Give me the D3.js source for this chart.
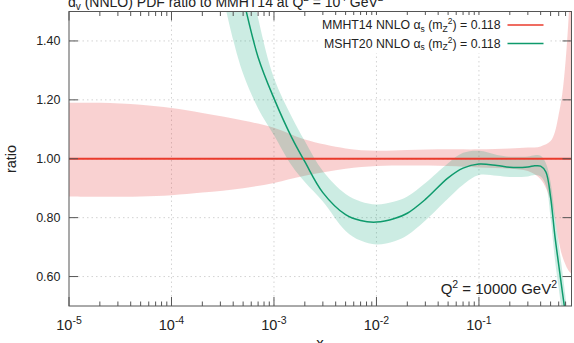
<!DOCTYPE html>
<html><head><meta charset="utf-8">
<script src="https://cdn.jsdelivr.net/npm/d3@7"></script>
<style>
body{margin:0;background:#fff;}
svg{display:block;font-family:"Liberation Sans",Arial,Helvetica,sans-serif;}
</style></head>
<body><svg id="c" width="574" height="343"></svg>
<script>
// ---- data ----
const redX      = [1e-5,2e-5,5e-5,1e-4,2e-4,5e-4,1e-3,2e-3,5e-3,1e-2,2e-2,5e-2,0.1,0.2,0.3,0.4,0.5,0.55,0.6,0.65,0.7,0.75,0.8];
const redUpper  = [1.19,1.19,1.183,1.172,1.155,1.13,1.105,1.065,1.035,1.027,1.03,1.032,1.032,1.035,1.038,1.042,1.06,1.09,1.15,1.22,1.33,1.48,1.65];
const redLower  = [0.872,0.871,0.872,0.876,0.885,0.9,0.918,0.942,0.966,0.975,0.977,0.975,0.97,0.966,0.958,0.93,0.86,0.8,0.72,0.67,0.64,0.62,0.61];
const redCentral= redX.map(() => 1.0);

const greenX       = [3e-4,4e-4,5e-4,7e-4,1e-3,1.5e-3,2e-3,3e-3,5e-3,7e-3,1e-2,1.5e-2,2e-2,3e-2,5e-2,7e-2,0.1,0.15,0.2,0.3,0.35,0.4,0.45,0.5,0.55,0.6,0.65,0.7,0.75];
const greenCentral = [1.9,1.69,1.545,1.345,1.205,1.07,0.99,0.885,0.81,0.79,0.785,0.797,0.815,0.862,0.935,0.968,0.982,0.977,0.971,0.972,0.976,0.975,0.955,0.87,0.74,0.64,0.55,0.47,0.4];
const greenUpper   = [2.1,1.86,1.74,1.478,1.274,1.14,1.06,0.958,0.88,0.855,0.845,0.855,0.872,0.918,0.985,1.02,1.027,1.013,1.007,1.008,1.012,1.01,0.985,0.92,0.81,0.71,0.62,0.53,0.45];
const greenLower   = [1.59,1.403,1.289,1.171,1.08,0.975,0.921,0.855,0.755,0.722,0.709,0.72,0.74,0.79,0.865,0.912,0.945,0.942,0.938,0.94,0.945,0.94,0.91,0.8,0.66,0.56,0.47,0.39,0.33];

const xMajor = [1e-5,1e-4,1e-3,1e-2,1e-1];
const xMajorExp = ["-5","-4","-3","-2","-1"];
const yTicks = [0.6,0.8,1.0,1.2,1.4];
const yTickLabels = ["0.60","0.80","1.00","1.20","1.40"];

// ---- layout ----
const L=69, R=571.5, T=11.5, B=306;
const x = d3.scaleLog().domain([1e-5,0.8]).range([L,R]);
const y = d3.scaleLinear().domain([0.5,1.5]).range([B,T]);
const svg = d3.select("#c");
const redC="#ea3b2c", greenC="#0e9a6c";
const curve = d3.curveCatmullRom.alpha(0.5);

svg.append("defs").append("clipPath").attr("id","clip")
  .append("rect").attr("x",L).attr("y",T).attr("width",R-L).attr("height",B-T);

// grid
const grid = svg.append("g").attr("stroke","#c8c8c8").attr("stroke-width",0.8).attr("stroke-dasharray","1.5,3");
xMajor.slice(1).forEach(v=>grid.append("line").attr("x1",x(v)).attr("x2",x(v)).attr("y1",T).attr("y2",B));
yTicks.forEach(v=>grid.append("line").attr("x1",L).attr("x2",R).attr("y1",y(v)).attr("y2",y(v)));

const plot = svg.append("g").attr("clip-path","url(#clip)");
const band = (xs,lo,hi) => d3.area().curve(curve)
  .x((d,i)=>x(xs[i])).y0((d,i)=>y(lo[i])).y1((d,i)=>y(hi[i]))(xs);
const line = (xs,vs) => d3.line().curve(curve)
  .x((d,i)=>x(xs[i])).y((d,i)=>y(vs[i]))(xs);

plot.append("path").attr("d",band(redX,redLower,redUpper)).attr("fill","#e84040").attr("fill-opacity",0.24);
plot.append("path").attr("d",band(greenX,greenLower,greenUpper)).attr("fill","#009e73").attr("fill-opacity",0.2);
plot.append("path").attr("d",line(redX,redCentral)).attr("fill","none").attr("stroke",redC).attr("stroke-width",2);
plot.append("path").attr("d",line(greenX,greenCentral)).attr("fill","none").attr("stroke",greenC).attr("stroke-width",1.5);

// frame & ticks
const ax = svg.append("g").attr("stroke","#555").attr("stroke-width",1).attr("fill","none");
ax.append("rect").attr("x",L).attr("y",T).attr("width",R-L).attr("height",B-T);
const minors=[];
for(let e=-5;e<0;e++) for(let m=2;m<=9;m++){ const v=m*Math.pow(10,e); if(v<=0.8) minors.push(v);}
minors.forEach(v=>{
  ax.append("line").attr("x1",x(v)).attr("x2",x(v)).attr("y1",B).attr("y2",B-4.5);
  ax.append("line").attr("x1",x(v)).attr("x2",x(v)).attr("y1",T).attr("y2",T+4.5);
});
xMajor.forEach(v=>{
  ax.append("line").attr("x1",x(v)).attr("x2",x(v)).attr("y1",B).attr("y2",B-9);
  ax.append("line").attr("x1",x(v)).attr("x2",x(v)).attr("y1",T).attr("y2",T+9);
});
yTicks.forEach(v=>{
  ax.append("line").attr("x1",L).attr("x2",L+9).attr("y1",y(v)).attr("y2",y(v));
  ax.append("line").attr("x1",R).attr("x2",R-9).attr("y1",y(v)).attr("y2",y(v));
});

// tick labels
yTicks.forEach((v,i)=>svg.append("text").attr("x",60.5).attr("y",y(v)+4.5)
  .attr("text-anchor","end").attr("font-size",12.5).attr("fill","#222").text(yTickLabels[i]));
xMajor.forEach((v,i)=>{
  const t=svg.append("text").attr("x",x(v)).attr("y",330).attr("text-anchor","middle").attr("font-size",14.5).attr("fill","#222");
  t.append("tspan").text("10");
  t.append("tspan").attr("dy",-6).attr("font-size",10.5).text(xMajorExp[i]);
});

// axis labels
svg.append("text").attr("x",320).attr("y",348).attr("text-anchor","middle").attr("font-size",15).attr("fill","#222").text("x");
svg.append("text").attr("transform","translate(16,159) rotate(-90)").attr("text-anchor","middle").attr("font-size",14.5).attr("fill","#222").text("ratio");

// title
const tt=svg.append("text").attr("x",68).attr("y",6.5).attr("font-size",14).attr("fill","#222");
tt.append("tspan").text("d");
tt.append("tspan").attr("dy",3).attr("font-size",10).text("v");
tt.append("tspan").attr("dy",-3).text(" (NNLO) PDF ratio to MMHT14 at Q");
tt.append("tspan").attr("dy",-6).attr("font-size",10).text("2");
tt.append("tspan").attr("dy",6).text(" = 10");
tt.append("tspan").attr("dy",-6).attr("font-size",10).text("4");
tt.append("tspan").attr("dy",6).text(" GeV");
tt.append("tspan").attr("dy",-6).attr("font-size",10).text("2");

// Q^2 annotation
const q=svg.append("text").attr("x",557).attr("y",293.5).attr("text-anchor","end").attr("font-size",15).attr("fill","#222");
q.append("tspan").text("Q");
q.append("tspan").attr("dy",-6).attr("font-size",10.5).text("2");
q.append("tspan").attr("dy",6).text(" = 10000 GeV");
q.append("tspan").attr("dy",-6).attr("font-size",10.5).text("2");

// legend
const legNames=["MMHT14","MSHT20"], legCols=[redC,greenC], legY=[25,43.5];
svg.append("rect").attr("x",318).attr("y",15).attr("width",231).attr("height",38).attr("fill","#fff");
legNames.forEach((n,i)=>{
  const t=svg.append("text").attr("x",500.5).attr("y",legY[i]+4.3).attr("text-anchor","end").attr("font-size",12.3).attr("fill","#222");
  t.append("tspan").text(n+" NNLO \u03b1");
  t.append("tspan").attr("dy",2.5).attr("font-size",8.5).text("s");
  t.append("tspan").attr("dy",-2.5).text(" (m");
  t.append("tspan").attr("dy",2.5).attr("font-size",8.5).text("Z");
  t.append("tspan").attr("dy",-7.5).attr("font-size",8.5).text("2");
  t.append("tspan").attr("dy",5).text(") = 0.118");
  svg.append("line").attr("x1",507.5).attr("x2",543.5).attr("y1",legY[i]).attr("y2",legY[i])
    .attr("stroke",legCols[i]).attr("stroke-width",1.5);
});
</script></body></html>
